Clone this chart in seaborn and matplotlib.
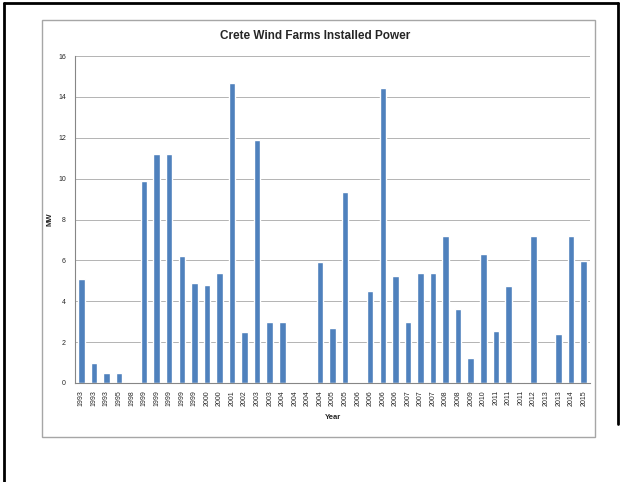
import matplotlib.pyplot as plt
import pandas as pd
import seaborn as sns
from matplotlib.patches import Rectangle
from matplotlib.lines import Line2D

years = [
    "1993", "1993", "1993", "1995", "1998", "1999", "1999", "1999", "1999",
    "1999", "2000", "2000", "2001", "2002", "2003", "2003", "2004", "2004",
    "2004", "2004", "2005", "2005", "2006", "2006", "2006", "2006", "2007",
    "2007", "2007", "2008", "2008", "2009", "2010", "2011", "2011", "2011",
    "2012", "2013", "2013", "2014", "2015",
]

power_mw = [
    5.1, 1.0, 0.5, 0.5, 0.0, 9.9, 11.2, 11.2, 6.2,
    4.9, 4.8, 5.4, 14.7, 2.5, 11.9, 3.0, 3.0, 0.0,
    0.0, 5.9, 2.7, 9.35, 0.0, 4.5, 14.45, 5.25, 3.0,
    5.4, 5.4, 7.2, 3.6, 1.2, 6.3, 2.55, 4.75, 0.05,
    7.2, 0.0, 2.4, 7.2, 5.95,
]

df = pd.DataFrame({
    "pos": range(len(years)),
    "year": years,
    "mw": power_mw,
})

sns.set_style("white")
plt.rcParams["font.family"] = ["Liberation Sans", "DejaVu Sans"]

fig = plt.figure(figsize=(6.22, 4.82), dpi=100)

# chart area frame (Excel style)
fig.patches.append(Rectangle(
    (0.0675, 0.0934), 0.889, 0.865,
    transform=fig.transFigure, fill=False,
    edgecolor="#a6a6a6", linewidth=1.0
))

# black outer frame (left, top, right)
for xs, ys in [
    ([0.006, 0.006], [0.0, 0.994]),
    ([0.006, 0.994], [0.994, 0.994]),
    ([0.994, 0.994], [0.994, 0.12]),
]:
    fig.lines.append(Line2D(xs, ys, transform=fig.transFigure,
                            color="black", linewidth=2.0))

ax = fig.add_axes([0.1206, 0.2054, 0.828, 0.6784])

sns.barplot(
    data=df,
    x="pos",
    y="mw",
    color="#4F81BD",
    saturation=1,
    width=0.52,
    ax=ax
)

ax.set_ylim(0, 16)
ax.set_yticks(range(0, 17, 2))
ax.set_xlim(-0.5, len(years) - 0.5)

ax.set_xticks(range(len(years)))
ax.set_xticklabels(years, rotation=90, fontsize=5)
ax.set_xticks([i - 0.5 for i in range(len(years) + 1)], minor=True)
ax.tick_params(axis="x", which="major", length=0, pad=5)
ax.tick_params(axis="x", which="minor", length=3, color="#868686", width=0.8)
ax.tick_params(axis="y", labelsize=5, length=3, color="#868686", width=0.8)

ax.yaxis.grid(True, color="#b3b3b3", linewidth=0.7)
ax.set_axisbelow(True)

for side in ["top", "right"]:
    ax.spines[side].set_visible(False)
for side in ["left", "bottom"]:
    ax.spines[side].set_color("#868686")
    ax.spines[side].set_linewidth(0.8)

ax.set_xlabel("Year", fontsize=5.5, fontweight="bold", labelpad=6)
ax.set_ylabel("MW", fontsize=5.5, fontweight="bold", labelpad=3)

fig.text(
    0.507, 0.925,
    "Crete Wind Farms Installed Power",
    ha="center", va="center",
    fontsize=8.5, fontweight="bold"
)

fig.savefig("out.png", dpi=100)
